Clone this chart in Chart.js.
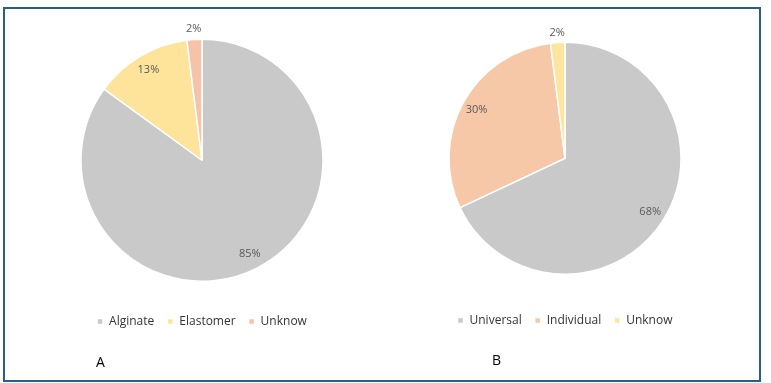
<!DOCTYPE html>
<html>
<head>
<meta charset="utf-8">
<script src="https://cdn.jsdelivr.net/npm/chart.js@4/dist/chart.umd.min.js"></script>
<style>
  html, body { margin: 0; padding: 0; background: #ffffff; }
  body { width: 771px; height: 383px; position: relative; overflow: hidden; font-family: "Open Sans", sans-serif; }
  #frame { position: absolute; left: 3px; top: 7px; width: 754px; height: 371px; border: 2px solid #2a5d88; }
  .cv { position: absolute; }
  .tag { position: absolute; font-family: "Open Sans", sans-serif; font-size: 14px; color: #000; line-height: 1; }
</style>
</head>
<body>
<div id="frame"></div>
<div class="cv" style="left:5px;top:9px;width:375px;height:370px;"><canvas id="chartA"></canvas></div>
<div class="cv" style="left:382px;top:9px;width:376px;height:370px;"><canvas id="chartB"></canvas></div>
<div class="tag" style="left:96px;top:355px;">A</div>
<div class="tag" style="left:492px;top:353px;">B</div>
<script>
// Panel A
const categoriesA = ["Alginate", "Elastomer", "Unknow"];
const valuesA = [85, 13, 2];
const colorsA = ["#c9c9c9", "#fee39b", "#f4c3a9"];
// Panel B
const categoriesB = ["Universal", "Individual", "Unknow"];
const valuesB = [68, 30, 2];
const colorsB = ["#c9c9c9", "#f6c8a8", "#fde59d"];

const pctLabels = {
  id: 'pctLabels',
  afterDatasetsDraw(chart) {
    const ctx = chart.ctx;
    const meta = chart.getDatasetMeta(0);
    const data = chart.data.datasets[0].data;
    ctx.save();
    ctx.font = '11px "Open Sans", sans-serif';
    ctx.fillStyle = '#595959';
    ctx.textAlign = 'center';
    ctx.textBaseline = 'middle';
    meta.data.forEach((arc, i) => {
      const p = arc.getProps(['x', 'y', 'startAngle', 'endAngle', 'outerRadius'], true);
      const mid = (p.startAngle + p.endAngle) / 2;
      const f = data[i] < 5 ? 1.085 : 0.87;
      const r = p.outerRadius * f;
      ctx.fillText(data[i] + '%', p.x + Math.cos(mid) * r, p.y + Math.sin(mid) * r);
    });
    ctx.restore();
  }
};

function makePie(id, labels, values, colors, radius, padding) {
  return new Chart(document.getElementById(id), {
    type: 'pie',
    data: {
      labels: labels,
      datasets: [{
        data: values,
        backgroundColor: colors,
        borderColor: '#ffffff',
        borderWidth: 1.5,
        radius: radius
      }]
    },
    options: {
      responsive: true,
      maintainAspectRatio: false,
      animation: false,
      layout: { padding: padding },
      plugins: {
        tooltip: { enabled: false },
        legend: {
          position: 'bottom',
          labels: {
            boxWidth: 6,
            boxHeight: 6,
            padding: 13,
            color: '#333333',
            font: { family: '"Open Sans", sans-serif', size: 12 }
          }
        }
      }
    },
    plugins: [pctLabels]
  });
}

makePie('chartA', categoriesA, valuesA, colorsA, 121, { left: 19, right: 0, top: 9, bottom: 41.5 });
makePie('chartB', categoriesB, valuesB, colorsB, 116, { left: 0, right: 10, top: 6, bottom: 42.5 });
</script>
</body>
</html>
